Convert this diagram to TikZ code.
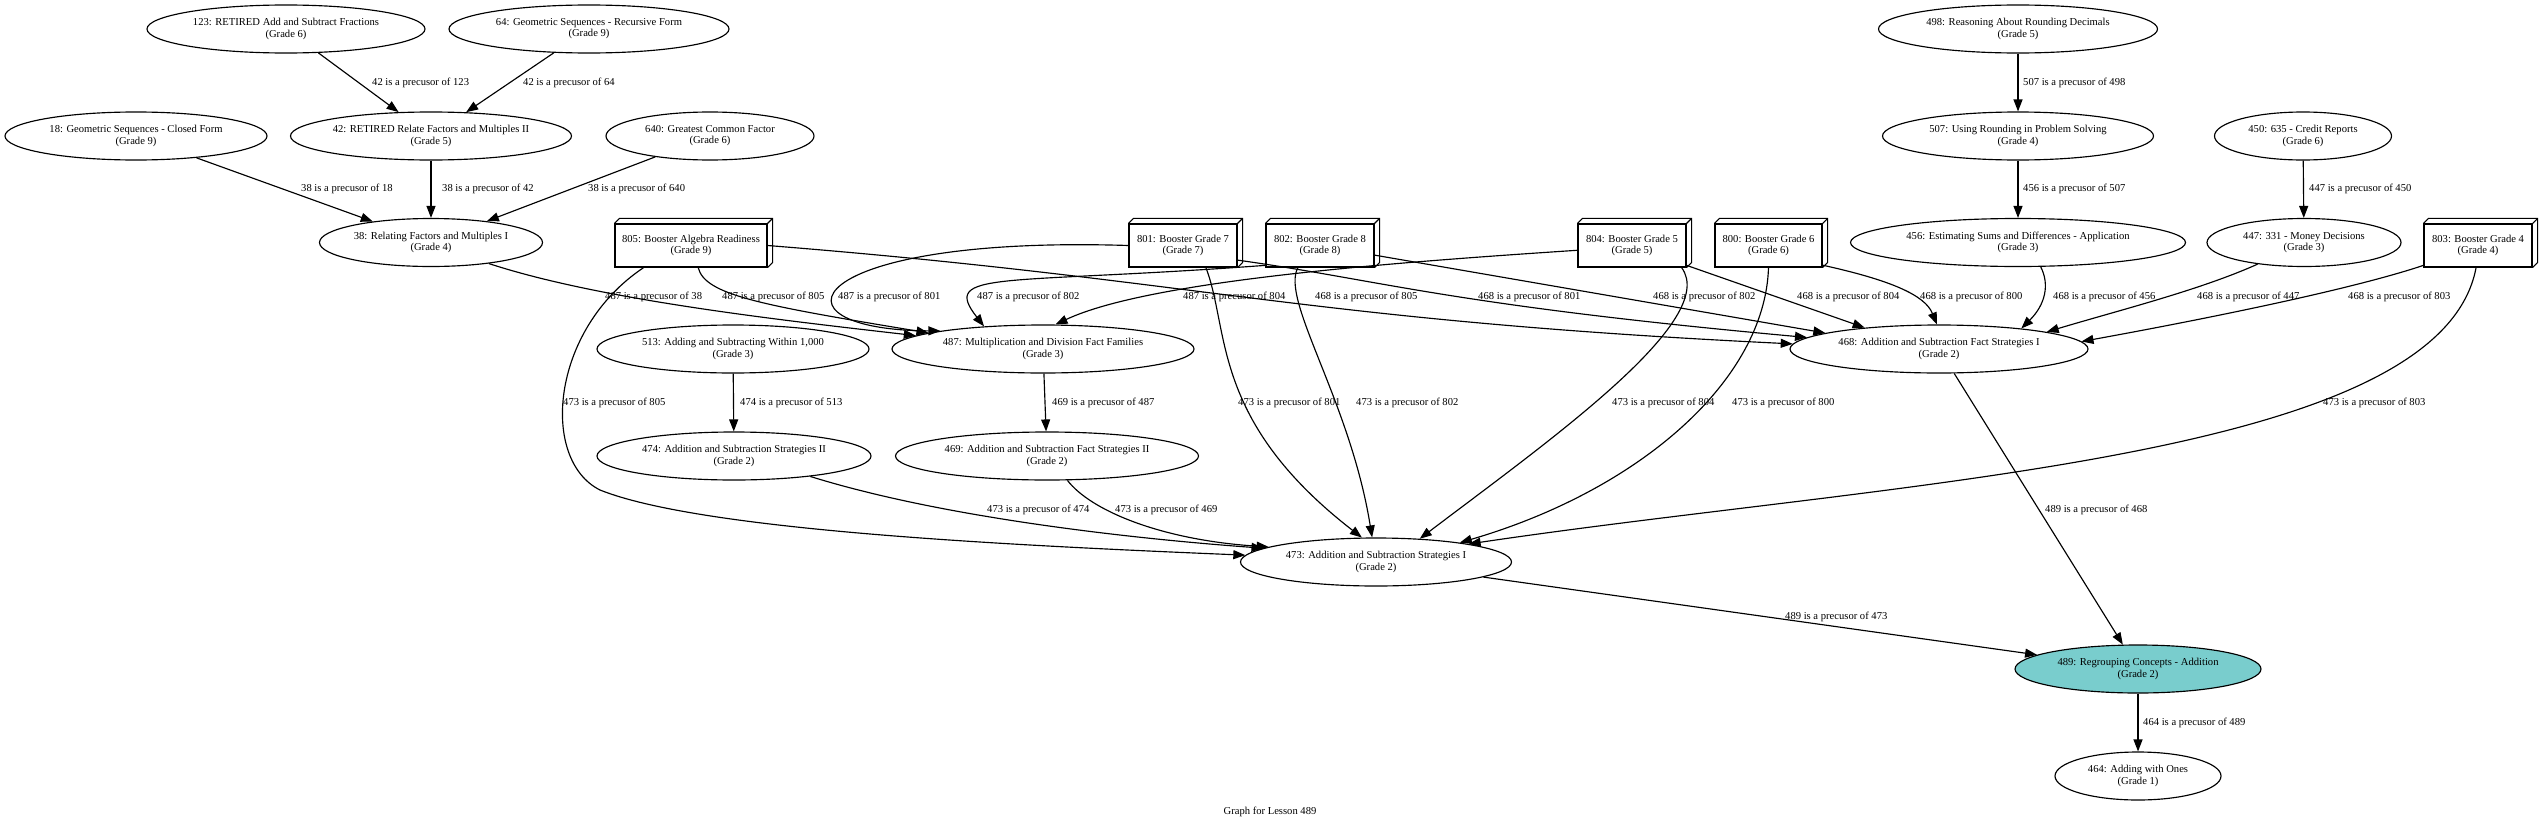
\documentclass[tikz,border=0pt]{standalone}
\usepackage{fontspec}
\setmainfont{Liberation Serif}
\usetikzlibrary{arrows.meta,shapes.geometric}
\definecolor{hilite}{HTML}{79CDCD}
\newcommand{\gvfont}{\fontsize{10.6}{11.2}\selectfont}
\newcommand{\bdepth}[1]{%
  \draw[boxline] (#1.north west) -- ([shift={(5,-5)}]#1.north west) -- ([shift={(5,-5)}]#1.north east) -- ([shift={(5,-5)}]#1.south east) -- (#1.south east);
  \draw[boxline] (#1.north east) -- ([shift={(5,-5)}]#1.north east);}
\tikzset{
  lesson/.style={ellipse, draw, line width=1.15pt, inner sep=0pt, minimum height=48pt, align=center, font=\gvfont},
  booster/.style={rectangle, draw, line width=1.15pt, inner sep=0pt, minimum height=43pt, align=center, font=\gvfont},
  boxline/.style={line width=1.1pt, line join=miter},
  prec/.style={-{Triangle[length=12pt,width=9pt]}, line width=1.15pt},
  lbl/.style={anchor=west, inner sep=0pt, font=\gvfont},
}
\begin{document}
\begin{tikzpicture}[x=1pt,y=-1pt]
\fill[white] (0,0) rectangle (2542,827);
\useasboundingbox (0,0) rectangle (2542,827);
% ellipse nodes
\node[lesson, minimum width=278pt] (n123) at (286,29) {123: RETIRED Add and Subtract Fractions\\(Grade 6)};
\node[lesson, minimum width=280pt] (n64) at (589,29) {64: Geometric Sequences - Recursive Form\\(Grade 9)};
\node[lesson, minimum width=279pt] (n498) at (2018,29) {498: Reasoning About Rounding Decimals\\(Grade 5)};
\node[lesson, minimum width=262pt] (n18) at (136,136) {18: Geometric Sequences - Closed Form\\(Grade 9)};
\node[lesson, minimum width=281pt] (n42) at (431,136) {42: RETIRED Relate Factors and Multiples II\\(Grade 5)};
\node[lesson, minimum width=208pt] (n640) at (710,136) {640: Greatest Common Factor\\(Grade 6)};
\node[lesson, minimum width=271pt] (n507) at (2018,136) {507: Using Rounding in Problem Solving\\(Grade 4)};
\node[lesson, minimum width=177pt] (n450) at (2303,136) {450: 635 - Credit Reports\\(Grade 6)};
\node[lesson, minimum width=223pt] (n38) at (431,242.5) {38: Relating Factors and Multiples I\\(Grade 4)};
\node[lesson, minimum width=335pt] (n456) at (2018,242.5) {456: Estimating Sums and Differences - Application\\(Grade 3)};
\node[lesson, minimum width=194pt] (n447) at (2304,242.5) {447: 331 - Money Decisions\\(Grade 3)};
\node[lesson, minimum width=272pt] (n513) at (733,349) {513: Adding and Subtracting Within 1,000\\(Grade 3)};
\node[lesson, minimum width=302pt] (n487) at (1043,349) {487: Multiplication and Division Fact Families\\(Grade 3)};
\node[lesson, minimum width=298pt] (n468) at (1939,349) {468: Addition and Subtraction Fact Strategies I\\(Grade 2)};
\node[lesson, minimum width=274pt] (n474) at (734,456) {474: Addition and Subtraction Strategies II\\(Grade 2)};
\node[lesson, minimum width=303pt] (n469) at (1047,456) {469: Addition and Subtraction Fact Strategies II\\(Grade 2)};
\node[lesson, minimum width=271pt] (n473) at (1376,562) {473: Addition and Subtraction Strategies I\\(Grade 2)};
\node[lesson, minimum width=246pt, fill=hilite] (n489) at (2138,669) {489: Regrouping Concepts - Addition\\(Grade 2)};
\node[lesson, minimum width=166pt] (n464) at (2138,776) {464: Adding with Ones\\(Grade 1)};
% booster boxes
\node[booster, minimum width=152pt] (b805) at (691,245.5) {805: Booster Algebra Readiness\\(Grade 9)};
\node[booster, minimum width=108pt] (b801) at (1183,245.5) {801: Booster Grade 7\\(Grade 7)};
\node[booster, minimum width=108pt] (b802) at (1320,245.5) {802: Booster Grade 8\\(Grade 8)};
\node[booster, minimum width=108pt] (b804) at (1632,245.5) {804: Booster Grade 5\\(Grade 5)};
\node[booster, minimum width=107pt] (b800) at (1768.5,245.5) {800: Booster Grade 6\\(Grade 6)};
\node[booster, minimum width=108pt] (b803) at (2478,245.5) {803: Booster Grade 4\\(Grade 4)};
\bdepth{b805}\bdepth{b801}\bdepth{b802}\bdepth{b804}\bdepth{b800}\bdepth{b803}
% title
\node[font=\gvfont, inner sep=0pt] (title) at (1270,812) {Graph for Lesson 489};
% connectors
\draw[prec] (n123) -- (n42);
\draw[prec] (n64) -- (n42);
\draw[prec] (n18) -- (n38);
\draw[prec] (n42) -- (n38);
\draw[prec] (n640) -- (n38);
\draw[prec] (n498) -- (n507);
\draw[prec] (n507) -- (n456);
\draw[prec] (n450) -- (n447);
\draw[prec] (n38.-20) .. controls (600,300) and (780,320) .. (n487.174);
\draw[prec] (b805.-72) .. controls (705,295) and (760,305) .. (n487.172);
\draw[prec] (b801.west) .. controls (800,235) and (760,330) .. (n487.170);
\draw[prec] (b802.-160) .. controls (1000,285) and (940,270) .. (n487.159);
\draw[prec] (b804.-175) .. controls (1400,262) and (1150,280) .. (n487.63);
\draw[prec] (b805.east) .. controls (1200,280) and (1300,320) .. (n468.178);
\draw[prec] (b801.-15) .. controls (1380,280) and (1450,305) .. (n468.175);
\draw[prec] (b802.-10) -- (n468.172);
\draw[prec] (b804.-20) -- (n468.164);
\draw[prec] (b800.-20) .. controls (1890,280) and (1925,295) .. (n468.95);
\draw[prec] (n456.-47) .. controls (2050,285) and (2045,305) .. (n468.14);
\draw[prec] (n447.-155) .. controls (2200,290) and (2120,310) .. (n468.9);
\draw[prec] (b803.-160) .. controls (2350,290) and (2200,320) .. (n468.3);
\draw[prec] (b805.-155) .. controls (550,330) and (540,460) .. (600,490) .. controls (700,530) and (1000,545) .. (n473.177);
\draw[prec] (n513) -- (n474);
\draw[prec] (n487) -- (n469);
\draw[prec] (b801.-44) .. controls (1230,330) and (1210,420) .. (n473.120);
\draw[prec] (b802.-135) .. controls (1280,300) and (1350,400) .. (n473.99);
\draw[prec] (b804.-24) .. controls (1720,320) and (1550,440) .. (n473.28);
\draw[prec] (b800.-90) .. controls (1765,380) and (1640,490) .. (n473.13);
\draw[prec] (b803.-95) .. controls (2440,460) and (1900,480) .. (n473.11);
\draw[prec] (n474.-15) .. controls (950,520) and (1150,540) .. (n473.173);
\draw[prec] (n469.-50) .. controls (1090,510) and (1160,540) .. (n473.172);
\draw[prec] (n473) -- (n489);
\draw[prec] (n468) -- (n489);
\draw[prec] (n489) -- (n464);
% connector labels
\node[lbl] (l1) at (372,83) {42 is a precusor of 123};
\node[lbl] (l2) at (523,83) {42 is a precusor of 64};
\node[lbl] (l3) at (301,189) {38 is a precusor of 18};
\node[lbl] (l4) at (442,189) {38 is a precusor of 42};
\node[lbl] (l5) at (588,189) {38 is a precusor of 640};
\node[lbl] (l6) at (2023,83) {507 is a precusor of 498};
\node[lbl] (l7) at (2023,189) {456 is a precusor of 507};
\node[lbl] (l8) at (2309,189) {447 is a precusor of 450};
\node[lbl] (l9) at (605,297) {487 is a precusor of 38};
\node[lbl] (l10) at (722,297) {487 is a precusor of 805};
\node[lbl] (l11) at (838,297) {487 is a precusor of 801};
\node[lbl] (l12) at (977,297) {487 is a precusor of 802};
\node[lbl] (l13) at (1183,297) {487 is a precusor of 804};
\node[lbl] (l14) at (1315,297) {468 is a precusor of 805};
\node[lbl] (l15) at (1478,297) {468 is a precusor of 801};
\node[lbl] (l16) at (1653,297) {468 is a precusor of 802};
\node[lbl] (l17) at (1797,297) {468 is a precusor of 804};
\node[lbl] (l18) at (1920,297) {468 is a precusor of 800};
\node[lbl] (l19) at (2053,297) {468 is a precusor of 456};
\node[lbl] (l20) at (2197,297) {468 is a precusor of 447};
\node[lbl] (l21) at (2348,297) {468 is a precusor of 803};
\node[lbl] (l22) at (563,403) {473 is a precusor of 805};
\node[lbl] (l23) at (740,403) {474 is a precusor of 513};
\node[lbl] (l24) at (1052,403) {469 is a precusor of 487};
\node[lbl] (l25) at (1238,403) {473 is a precusor of 801};
\node[lbl] (l26) at (1356,403) {473 is a precusor of 802};
\node[lbl] (l27) at (1612,403) {473 is a precusor of 804};
\node[lbl] (l28) at (1732,403) {473 is a precusor of 800};
\node[lbl] (l29) at (2323,403) {473 is a precusor of 803};
\node[lbl] (l30) at (987,510) {473 is a precusor of 474};
\node[lbl] (l31) at (1115,510) {473 is a precusor of 469};
\node[lbl] (l32) at (1785,617) {489 is a precusor of 473};
\node[lbl] (l33) at (2045,510) {489 is a precusor of 468};
\node[lbl] (l34) at (2143,723) {464 is a precusor of 489};
\end{tikzpicture}
\end{document}
